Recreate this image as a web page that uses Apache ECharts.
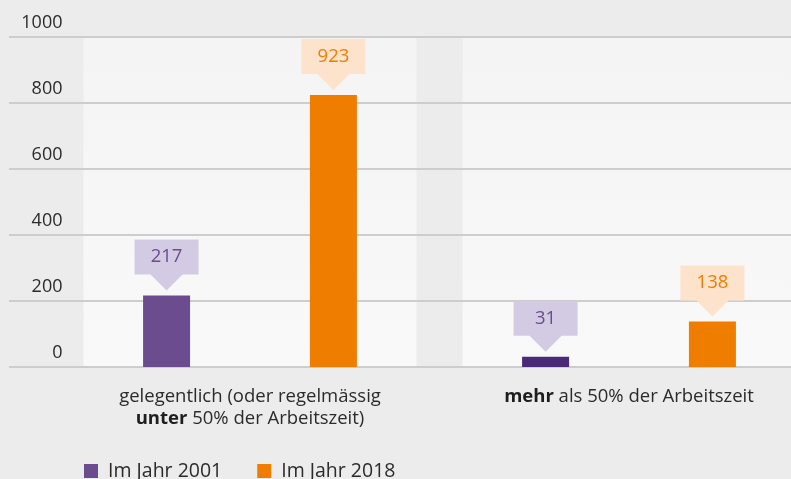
<!DOCTYPE html>
<html>
<head>
<meta charset="utf-8">
<script src="https://cdn.jsdelivr.net/npm/echarts@6/dist/echarts.min.js"></script>
<style>
  html, body { margin: 0; padding: 0; background: #ececec; }
  #chart { width: 791px; height: 479px; }
</style>
</head>
<body>
<div id="chart"></div>
<script>
const categories = [
  "gelegentlich (oder regelmässig\nunter 50% der Arbeitszeit)",
  "mehr als 50% der Arbeitszeit"
];
const seriesNames = ["Im Jahr 2001", "Im Jahr 2018"];
// bar heights as drawn in the source (the 923 bar is drawn shorter than its label)
const bars2001 = [217, 31];
const bars2018 = [824, 138];
// values printed in the callouts
const labels2001 = [217, 31];
const labels2018 = [923, 138];
const yTicks = { min: 0, max: 1000, interval: 200 };

const purple = "#6a4c8f";
const purpleDark = "#4a2a78";
const orange = "#ef7d00";
const FONT = "'Open Sans', 'Noto Sans', sans-serif";

const chart = echarts.init(document.getElementById("chart"));

// callout symbol: box with a small pointer underneath
const callout = "path://M0,0H64V35H48L32,51L16,35H0Z";

function calloutPoints(bars, labels, boxColor, textColor) {
  return bars.map((h, i) => ({
    coord: [i, h],
    value: labels[i],
    itemStyle: { color: boxColor },
    label: { color: textColor }
  }));
}

const option = {
  backgroundColor: "#ececec",
  textStyle: { fontFamily: FONT },
  grid: [
    // grid only used for the full-width gridlines
    { left: 9, right: 0, top: 37, bottom: 112, outerBoundsMode: "none" },
    // grid holding the bars, runs past the right edge
    { left: 60.5, width: 758, top: 37, bottom: 112, outerBoundsMode: "none" }
  ],
  xAxis: [
    { gridIndex: 0, type: "category", data: categories, show: false },
    {
      gridIndex: 1,
      type: "category",
      data: categories,
      axisLine: { show: false },
      axisTick: { show: false },
      axisLabel: {
        interval: 0,
        margin: 19,
        fontSize: 18.5,
        lineHeight: 22,
        color: "#2b2b2b",
        fontFamily: FONT,
        formatter: function (v) {
          return v.replace("unter", "{b|unter}").replace("mehr", "{b|mehr}");
        },
        rich: {
          b: { fontWeight: "bold", fontSize: 18.5, lineHeight: 22, color: "#1e1e1e", fontFamily: FONT }
        }
      }
    }
  ],
  yAxis: [
    {
      gridIndex: 0,
      type: "value",
      min: yTicks.min,
      max: yTicks.max,
      interval: yTicks.interval,
      axisLabel: { show: false },
      axisLine: { show: false },
      axisTick: { show: false },
      splitLine: { lineStyle: { color: "#cdcdcd", width: 2 } }
    },
    {
      gridIndex: 1,
      type: "value",
      min: yTicks.min,
      max: yTicks.max,
      interval: yTicks.interval,
      axisLine: { show: false },
      axisTick: { show: false },
      splitLine: { show: false },
      axisLabel: {
        margin: -2,
        fontSize: 18,
        lineHeight: 18,
        color: "#2b2b2b",
        verticalAlign: "bottom",
        padding: [0, 0, 5, 0],
        fontFamily: FONT,
        formatter: (v) => String(v)
      }
    }
  ],
  legend: {
    data: seriesNames,
    left: 84,
    top: 461,
    padding: 0,
    icon: "rect",
    itemWidth: 14,
    itemHeight: 14,
    itemGap: 35,
    textStyle: { fontSize: 19.5, color: "#2b2b2b", fontFamily: FONT, padding: [0, 0, 0, 5] }
  },
  series: [
    {
      name: seriesNames[0],
      type: "bar",
      xAxisIndex: 1,
      yAxisIndex: 1,
      barWidth: 47,
      barGap: "255%",
      itemStyle: { color: purple },
      data: bars2001.map((v, i) => ({
        value: v,
        itemStyle: { color: i === 0 ? purple : purpleDark }
      })),
      markPoint: {
        symbol: callout,
        symbolSize: [64, 51],
        symbolOffset: [0, -30.5],
        label: {
          show: true,
          position: "inside",
          offset: [0, -8],
          fontSize: 18.5,
          fontFamily: FONT,
          formatter: "{c}"
        },
        data: calloutPoints(bars2001, labels2001, "#d3cbe3", purple)
      }
    },
    {
      name: seriesNames[1],
      type: "bar",
      xAxisIndex: 1,
      yAxisIndex: 1,
      barWidth: 47,
      barGap: "255%",
      itemStyle: { color: orange },
      data: bars2018,
      markPoint: {
        symbol: callout,
        symbolSize: [64, 51],
        symbolOffset: [0, -30.5],
        label: {
          show: true,
          position: "inside",
          offset: [0, -8],
          fontSize: 18.5,
          fontFamily: FONT,
          formatter: "{c}"
        },
        data: calloutPoints(bars2018, labels2018, "#fde3cb", "#f07d00")
      }
    }
  ]
};

chart.setOption(option);

// light panels behind each category group
const panelTop = chart.convertToPixel({ yAxisIndex: 1 }, yTicks.max);
const panelBottom = chart.convertToPixel({ yAxisIndex: 1 }, yTicks.min);
const panels = categories.map((c, i) => {
  const cx = chart.convertToPixel({ xAxisIndex: 1 }, i);
  return {
    type: "rect",
    z: -10,
    silent: true,
    shape: { x: cx - 166.5, y: panelTop + 1, width: 333, height: panelBottom - panelTop - 1 },
    style: {
      fill: new echarts.graphic.LinearGradient(0, 0, 0, 1, [
        { offset: 0, color: "#f4f4f4" },
        { offset: 1, color: "#f9f9f9" }
      ])
    }
  };
});
chart.setOption({ graphic: panels });
</script>
</body>
</html>
